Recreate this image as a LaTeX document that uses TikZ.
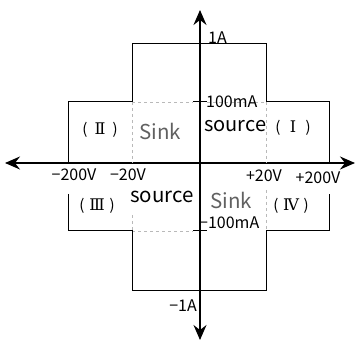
\documentclass[tikz,border=0pt]{standalone}
\usepackage{fontspec}
\setmainfont{Noto Sans CJK SC}
\newfontfamily\romfont{DejaVu Serif}
\usetikzlibrary{arrows.meta}
\newcommand\qlab[1]{(\hspace{5pt}\makebox[15pt]{\romfont\fontsize{16}{17}\selectfont #1}\hspace{5pt})}
\begin{document}
\begin{tikzpicture}[x=1pt,y=-1pt,
  axis/.style={line width=1.2pt,-{Stealth[length=15pt,width=13pt,inset=5pt]}},
  frame/.style={line width=1pt},
  guide/.style={dashed,gray!55,line width=0.6pt},
  lbl/.style={inner sep=0pt,font=\fontsize{16}{17}\selectfont},
  big/.style={inner sep=0pt,font=\fontsize{20.5}{21}\selectfont},
  quad/.style={inner sep=0pt,font=\fontsize{15}{16}\selectfont}]
\useasboundingbox (0,0) rectangle (356,344);
% axes
\coordinate (L) at (5,163); \coordinate (R) at (355,163);
\coordinate (T) at (200,10); \coordinate (B) at (200,340);
\coordinate (O) at (200,163);
\draw[axis] (O) -- (L);
\draw[axis] (O) -- (R);
\draw[axis] (O) -- (T);
\draw[axis] (O) -- (B);
% dashed guides
\draw[guide] (132,102) -- (132,163);
\draw[guide] (266,102) -- (266,163);
\draw[guide] (132,102) -- (193,102);
\draw[guide] (207,102) -- (266,102);
\draw[guide] (132,215) -- (132,231);
\draw[guide] (266,190) -- (266,231);
\draw[guide] (132,231) -- (193,231);
% outline
\draw[frame] (68,163) -- (68,102) -- (132,102) -- (132,44) -- (266,44) -- (266,102) -- (329,102) -- (329,163);
\draw[frame] (68,194) -- (68,231) -- (132,231) -- (132,291) -- (266,291) -- (266,231) -- (329,231) -- (329,194);
% ticks
\draw[frame] (193,102) -- (207,102);
\draw[frame] (193,231) -- (207,231);
% labels
\node[lbl,anchor=west] (a1) at (208,38) {1A};
\node[lbl,anchor=west] (a100) at (206,102) {100mA};
\node[lbl,anchor=west] (am100) at (199,223) {−100mA};
\node[lbl,anchor=east] (am1) at (197,306) {−1A};
\node[lbl] (vm200) at (74,175) {−200V};
\node[lbl] (vm20) at (128,175) {−20V};
\node[lbl] (vp20) at (264,176) {+20V};
\node[lbl] (vp200) at (318,178) {+200V};
\node[big,anchor=west,font=\fontsize{20}{21}\selectfont] (src1) at (204,126) {source};
\node[quad] (q1) at (293,128) {\qlab{Ⅰ}};
\node[quad] (q2) at (100,130) {\qlab{Ⅱ}};
\node[big,text=black!62] (sink2) at (160,131) {Sink};
\node[quad] (q3) at (97,206) {\qlab{Ⅲ}};
\node[big] (src3) at (162,197) {source};
\node[big,text=black!62] (sink4) at (231,200) {Sink};
\node[quad] (q4) at (291,206) {\qlab{Ⅳ}};
\end{tikzpicture}
\end{document}
